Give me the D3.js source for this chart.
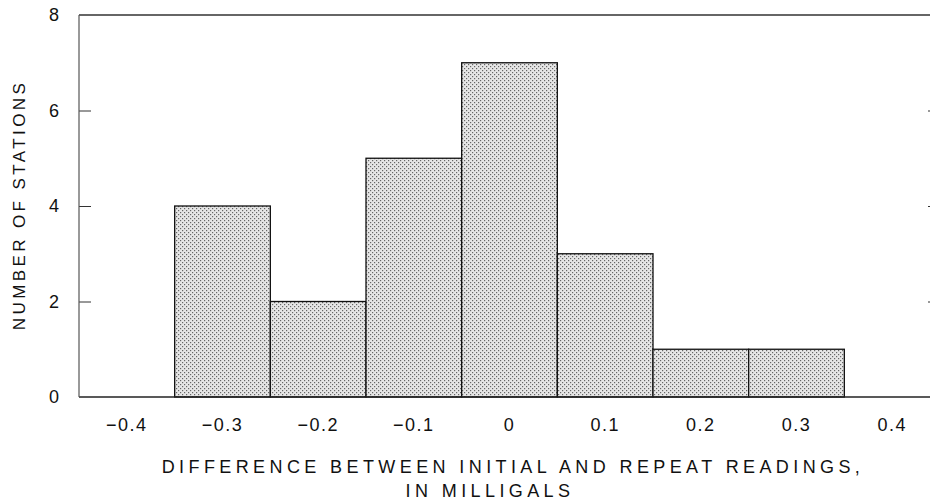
<!DOCTYPE html>
<html>
<head>
<meta charset="utf-8">
<script src="https://cdn.jsdelivr.net/npm/d3@7"></script>
<style>
  body { margin: 0; background: #fff; }
  svg { display: block; font-family: "Liberation Sans", Arial, sans-serif; }
</style>
</head>
<body>
<svg width="930" height="500"></svg>
<script>
// Histogram data: bin centres (mGal) and station counts
const binCenters = [-0.3, -0.2, -0.1, 0, 0.1, 0.2, 0.3];
const counts = [4, 2, 5, 7, 3, 1, 1];
const binWidth = 0.1;
const xTicks = [-0.4, -0.3, -0.2, -0.1, 0, 0.1, 0.2, 0.3, 0.4];
const yTicks = [0, 2, 4, 6, 8];

const svg = d3.select("svg");

// Plot frame
const plotLeft = 79, plotRight = 940, plotTop = 15, plotBottom = 397;

const x = d3.scaleLinear().domain([-0.45, 0.45]).range([plotLeft, plotRight]);
const y = d3.scaleLinear().domain([0, 8]).range([plotBottom, plotTop]);

// Stipple pattern for bars
const defs = svg.append("defs");
const pat = defs.append("pattern")
    .attr("id", "stipple")
    .attr("patternUnits", "userSpaceOnUse")
    .attr("width", 4)
    .attr("height", 4);
pat.append("rect").attr("width", 4).attr("height", 4).attr("fill", "#e6e6e6");
pat.append("rect").attr("x", 0).attr("y", 0).attr("width", 1.2).attr("height", 1.2).attr("fill", "#666");
pat.append("rect").attr("x", 2).attr("y", 2).attr("width", 1.2).attr("height", 1.2).attr("fill", "#666");

// Bars
svg.append("g")
  .selectAll("rect")
  .data(binCenters)
  .join("rect")
    .attr("x", d => x(d - binWidth / 2))
    .attr("y", (d, i) => y(counts[i]))
    .attr("width", d => x(d + binWidth / 2) - x(d - binWidth / 2))
    .attr("height", (d, i) => y(0) - y(counts[i]))
    .attr("fill", "url(#stipple)")
    .attr("stroke", "#111")
    .attr("stroke-width", 1.3);

// Left axis with inward ticks
const yAxis = svg.append("g")
    .attr("transform", `translate(${plotLeft},0)`)
    .call(d3.axisRight(y).tickValues(yTicks).tickSize(12).tickFormat(""));
yAxis.select(".domain").remove();
yAxis.selectAll(".tick line").attr("stroke", "#333").filter(d => d === 0 || d === 8).remove();

// Right axis ticks (inward)
const yAxisR = svg.append("g")
    .attr("transform", `translate(${plotRight},0)`)
    .call(d3.axisLeft(y).tickValues(yTicks).tickSize(12).tickFormat(""));
yAxisR.select(".domain").remove();
yAxisR.selectAll(".tick line").attr("stroke", "#333").filter(d => d === 0 || d === 8).remove();

// Y tick labels
svg.append("g")
  .selectAll("text")
  .data(yTicks)
  .join("text")
    .attr("x", plotLeft - 20)
    .attr("y", d => y(d))
    .attr("dy", "0.36em")
    .attr("text-anchor", "end")
    .attr("font-size", 18)
    .attr("fill", "#111")
    .text(d => d);

// X tick labels
svg.append("g")
  .selectAll("text")
  .data(xTicks)
  .join("text")
    .attr("x", d => x(d))
    .attr("y", 431)
    .attr("text-anchor", "middle")
    .attr("font-size", 18)
    .attr("letter-spacing", 1.5)
    .attr("fill", "#111")
    .text(d => d === 0 ? "0" : (d < 0 ? "\u2212" + Math.abs(d).toFixed(1) : d.toFixed(1)));

// Frame lines
svg.append("line")
    .attr("x1", plotLeft).attr("x2", 930).attr("y1", plotTop).attr("y2", plotTop)
    .attr("stroke", "#333").attr("stroke-width", 1.3);
svg.append("line")
    .attr("x1", plotLeft).attr("x2", 930).attr("y1", plotBottom).attr("y2", plotBottom)
    .attr("stroke", "#222").attr("stroke-width", 1.6);
svg.append("line")
    .attr("x1", plotLeft).attr("x2", plotLeft).attr("y1", plotTop).attr("y2", plotBottom)
    .attr("stroke", "#555").attr("stroke-width", 1.2);

// Axis titles
svg.append("text")
    .attr("transform", "translate(25,205) rotate(-90)")
    .attr("text-anchor", "middle")
    .attr("font-size", 17)
    .attr("letter-spacing", 3.4)
    .attr("fill", "#111")
    .text("NUMBER OF STATIONS");

svg.append("text")
    .attr("x", 513).attr("y", 473)
    .attr("text-anchor", "middle")
    .attr("font-size", 18)
    .attr("letter-spacing", 4.4)
    .attr("fill", "#111")
    .text("DIFFERENCE BETWEEN INITIAL AND REPEAT READINGS,");

svg.append("text")
    .attr("x", 490).attr("y", 497)
    .attr("text-anchor", "middle")
    .attr("font-size", 18)
    .attr("letter-spacing", 4.4)
    .attr("fill", "#111")
    .text("IN MILLIGALS");
</script>
</body>
</html>
